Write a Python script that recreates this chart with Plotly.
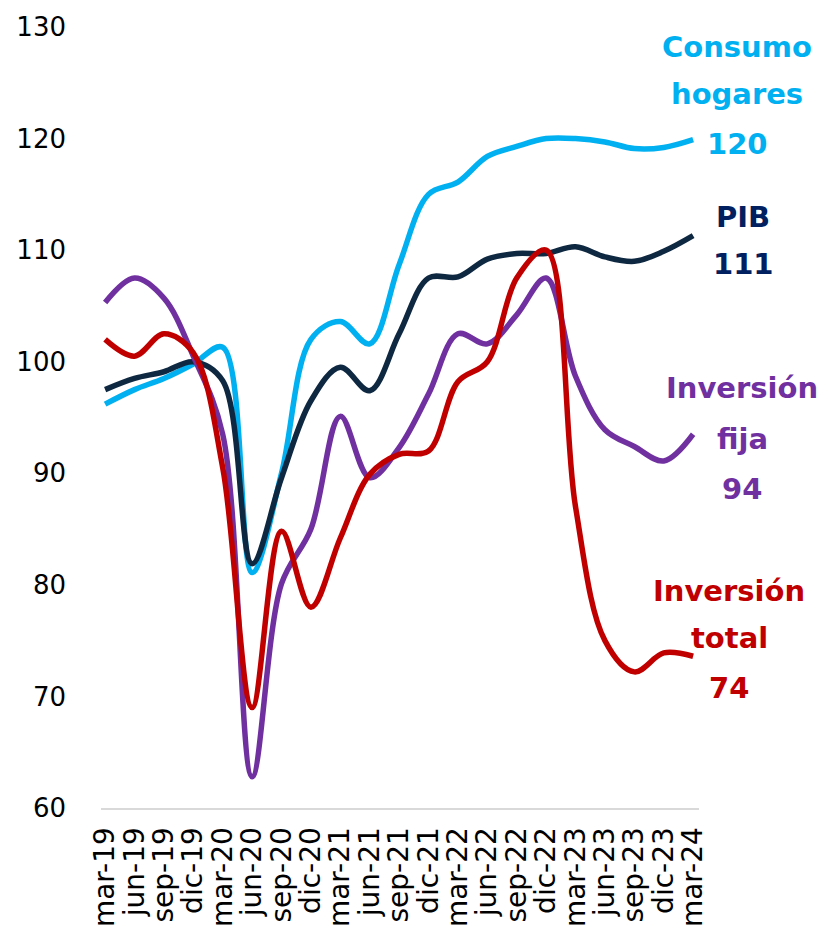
import plotly.graph_objects as go

cats = ["mar-19","jun-19","sep-19","dic-19","mar-20","jun-20","sep-20","dic-20",
        "mar-21","jun-21","sep-21","dic-21","mar-22","jun-22","sep-22","dic-22",
        "mar-23","jun-23","sep-23","dic-23","mar-24"]

consumo = [96.2, 97.5, 98.5, 99.8, 101.3, 81.1, 90.0, 102.0, 103.6, 101.6, 108.7,
           115.0, 116.1, 118.4, 119.3, 120.0, 120.0, 119.7, 119.1, 119.2, 119.9]
pib = [97.5, 98.5, 99.1, 100.0, 98.3, 81.9, 89.6, 96.5, 99.5, 97.4, 102.5,
       107.5, 107.6, 109.2, 109.7, 109.7, 110.3, 109.4, 109.0, 109.9, 111.3]
fija = [105.3, 107.5, 105.7, 100.5, 93.5, 62.8, 80.1, 85.0, 95.1, 89.6, 92.3,
        97.1, 102.5, 101.6, 104.2, 107.5, 98.7, 93.9, 92.4, 91.1, 93.5]
total = [102.0, 100.5, 102.5, 100.8, 90.5, 69.0, 84.8, 78.0, 84.2, 89.9, 91.7,
         92.0, 98.2, 100.0, 107.5, 110.0, 87.0, 75.0, 72.2, 73.9, 73.6]

series = [
    ("Consumo hogares", consumo, "#00B0F0"),
    ("PIB", pib, "#0E2841"),
    ("Inversión fija", fija, "#7030A0"),
    ("Inversión total", total, "#C00000"),
]

labels = [
    (["Consumo", "hogares", "120"], "#00B0F0", 737, [45, 92, 142]),
    (["PIB", "111"], "#002060", 743, [215, 263]),
    (["Inversión", "fija", "94"], "#7030A0", 742, [387, 438, 488]),
    (["Inversión", "total", "74"], "#C00000", 729, [590, 638, 688]),
]

fig = go.Figure()
for name, vals, col in series:
    fig.add_trace(go.Scatter(x=cats, y=vals, name=name, mode="lines",
                             line=dict(color=col, width=5.5, shape="spline", smoothing=1.0),
                             showlegend=False))

L, R, T, B = 101, 699, 25, 808
for lines, col, px, pys in labels:
    for txt, py in zip(lines, pys):
        fig.add_annotation(text=txt, xref="paper", yref="paper",
                           x=(px - L) / (R - L), y=(B - py) / (B - T),
                           xanchor="center", yanchor="middle", showarrow=False,
                           font=dict(family="DejaVu Sans", size=29, color=col, weight="bold"))

fig.update_layout(
    width=819, height=939,
    margin=dict(l=L, r=819 - R, t=T, b=939 - B, pad=0),
    paper_bgcolor="white", plot_bgcolor="white",
    xaxis=dict(type="category", range=[-0.14, 20.2], tickmode="array",
               tickvals=cats, ticktext=cats, tickangle=-90,
               showgrid=False, zeroline=False, showline=True, linecolor="#D9D9D9",
               linewidth=2, ticks="", ticklabelstandoff=6,
               tickfont=dict(family="DejaVu Sans", size=28, color="black")),
    yaxis=dict(range=[60, 130], tickvals=[60, 70, 80, 90, 100, 110, 120, 130],
               showgrid=False, zeroline=False, showline=False, ticks="",
               ticklabelstandoff=34,
               tickfont=dict(family="DejaVu Sans", size=26, color="black")),
)

fig.write_html("out.html", config={"displayModeBar": False},
               post_script="document.body.style.margin='0';document.body.style.overflow='hidden';")
